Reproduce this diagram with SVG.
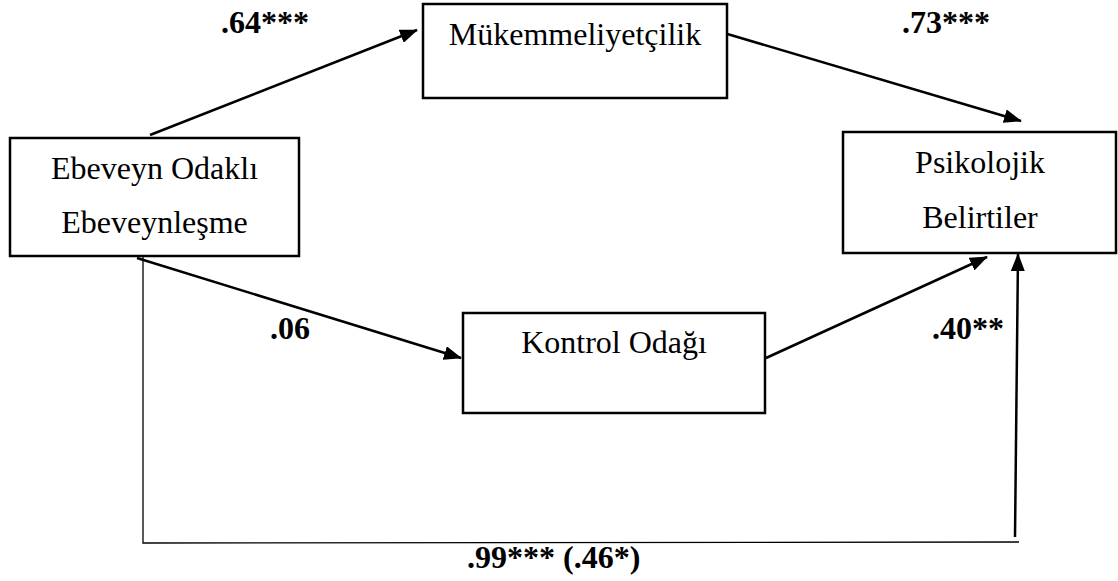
<svg xmlns="http://www.w3.org/2000/svg" width="1118" height="581" viewBox="0 0 1118 581">
<style>
.box{fill:#fff;stroke:#000;stroke-width:2.5}
.t{font-family:"Liberation Serif","Times New Roman",serif;font-size:32px;fill:#000;text-anchor:middle}
.lb{font-family:"Liberation Serif","Times New Roman",serif;font-size:32px;font-weight:bold;fill:#000}
.c{stroke:#000;stroke-width:2.5;fill:none}
.thin{stroke:#000;stroke-width:1.3;fill:none}
</style>
<defs>
<marker id="ah" viewBox="0 0 18 14" refX="17" refY="7" markerWidth="18" markerHeight="14" markerUnits="userSpaceOnUse" orient="auto">
<path d="M0,0 L18,7 L0,14 z" fill="#000"/>
</marker>
</defs>
<rect width="1118" height="581" fill="#fff"/>
<g id="connectors">
<line class="c" x1="150" y1="135" x2="417" y2="30" marker-end="url(#ah)"/>
<line class="c" x1="724" y1="33" x2="1021" y2="121" marker-end="url(#ah)"/>
<line class="c" x1="137" y1="258" x2="461" y2="358" marker-end="url(#ah)"/>
<line class="c" x1="766" y1="358" x2="987" y2="257" marker-end="url(#ah)"/>
<polyline class="thin" points="143,257 143,543 1019,542"/>
<line class="c" x1="1015" y1="537" x2="1018" y2="254" marker-end="url(#ah)"/>
</g>
<g id="n-ebeveyn">
<rect class="box" x="10" y="138" width="289" height="118"/>
<text class="t" x="154.5" y="179">Ebeveyn Odaklı</text>
<text class="t" x="154.5" y="233">Ebeveynleşme</text>
</g>
<g id="n-mukemmeliyetcilik">
<rect class="box" x="423" y="4" width="304" height="94"/>
<text class="t" x="575" y="45">Mükemmeliyetçilik</text>
</g>
<g id="n-psikolojik">
<rect class="box" x="843" y="132" width="273" height="121"/>
<text class="t" x="980" y="173">Psikolojik</text>
<text class="t" x="980" y="228">Belirtiler</text>
</g>
<g id="n-kontrol">
<rect class="box" x="463" y="313" width="302" height="100"/>
<text class="t" x="614" y="353">Kontrol Odağı</text>
</g>
<g id="labels">
<text class="lb" x="221" y="33">.64***</text>
<text class="lb" x="902" y="33">.73***</text>
<text class="lb" x="270" y="339">.06</text>
<text class="lb" x="932" y="339">.40**</text>
<text class="lb" x="467" y="568">.99*** (.46*)</text>
</g>
</svg>
